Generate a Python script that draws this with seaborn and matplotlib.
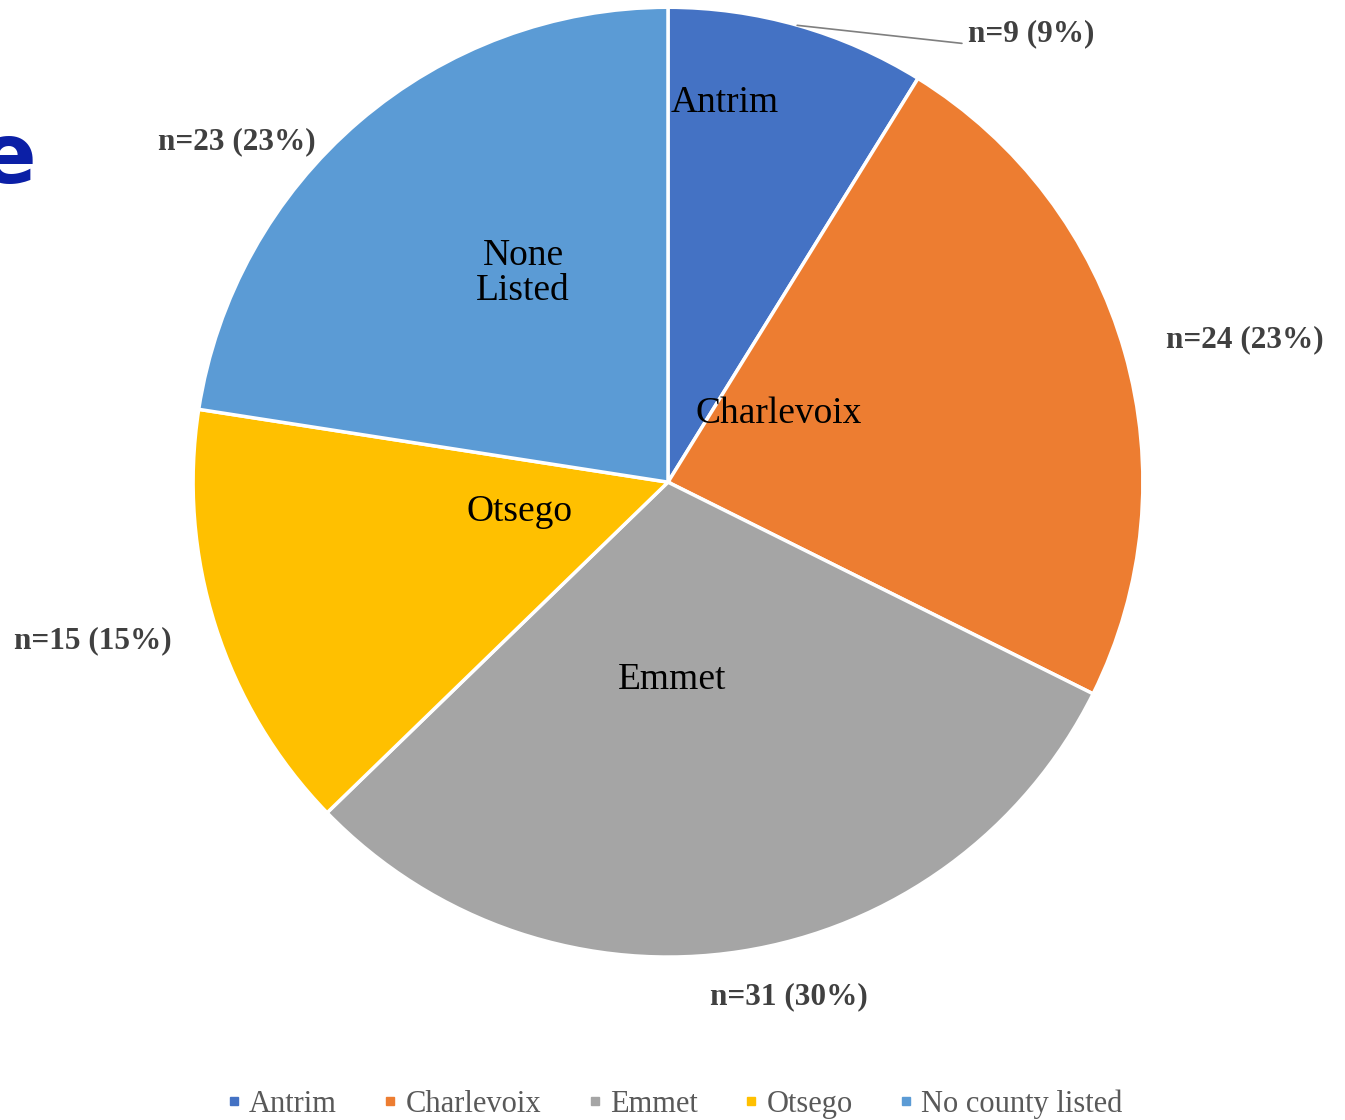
import matplotlib
matplotlib.use("Agg")
import matplotlib.pyplot as plt
from matplotlib.lines import Line2D
import seaborn as sns

# data
counties = ["Antrim", "Charlevoix", "Emmet", "Otsego", "No county listed"]
inner_labels = ["Antrim", "Charlevoix", "Emmet", "Otsego", "None\nListed"]
counts = [9, 24, 31, 15, 23]
pcts = [9, 23, 30, 15, 23]
colors = ["#4472C4", "#ED7D31", "#A5A5A5", "#FFC000", "#5B9BD5"]

sns.set_theme(style="white")
plt.rcParams["font.family"] = ["Liberation Serif", "DejaVu Serif"]

fig = plt.figure(figsize=(13.45, 11.2), dpi=100)
ax = fig.add_axes([0.1435, 0.1455, 0.7063, 0.848])

palette = sns.color_palette(colors)
wedges, _ = ax.pie(
    counts,
    colors=palette,
    startangle=90,
    counterclock=False,
    radius=1,
    wedgeprops=dict(edgecolor="white", linewidth=2.5),
)
ax.set_xlim(-1, 1)
ax.set_ylim(-1, 1)
ax.set_aspect("equal")
ax.axis("off")

# label spots (data units, pie radius = 1)
outer_pos = [(0.632, 0.945), (1.215, 0.299), (0.255, -1.084), (-1.211, -0.333), (-0.907, 0.716)]
inner_pos = [(0.12, 0.80), (0.234, 0.145), (0.008, -0.417), (-0.312, -0.063), (-0.305, 0.44)]

for i, (n, p) in enumerate(zip(counts, pcts)):
    x, y = outer_pos[i]
    ha = "left" if i == 0 else "center"
    ax.text(x, y, f"n={n} ({p}%)", ha=ha, va="center", fontsize=22.5,
            fontweight="bold", color="#404040", clip_on=False)

# leader line for the small Antrim slice
ax.plot([0.272, 0.619], [0.962, 0.924], color="#7f7f7f", lw=1.2, clip_on=False)

for i, lab in enumerate(inner_labels):
    x, y = inner_pos[i]
    ax.text(x, y, lab, ha="center", va="center", fontsize=27, color="black",
            linespacing=1.05)

handles = [Line2D([], [], marker="s", linestyle="none", markersize=6,
                  markerfacecolor=c, markeredgecolor=c) for c in colors]
fig.legend(handles, counties, loc="center", bbox_to_anchor=(0.502, 0.014),
           ncol=5, frameon=False, fontsize=22, handlelength=0.4,
           handletextpad=0.3, columnspacing=1.55, labelcolor="#595959")

# cropped slide title fragment at the left edge
fig.text(0.027, 0.858, "e", ha="right", va="center", fontsize=60,
         fontweight="bold", color="#0B1FA6", family="DejaVu Sans")

fig.savefig("out.png", dpi=100)
